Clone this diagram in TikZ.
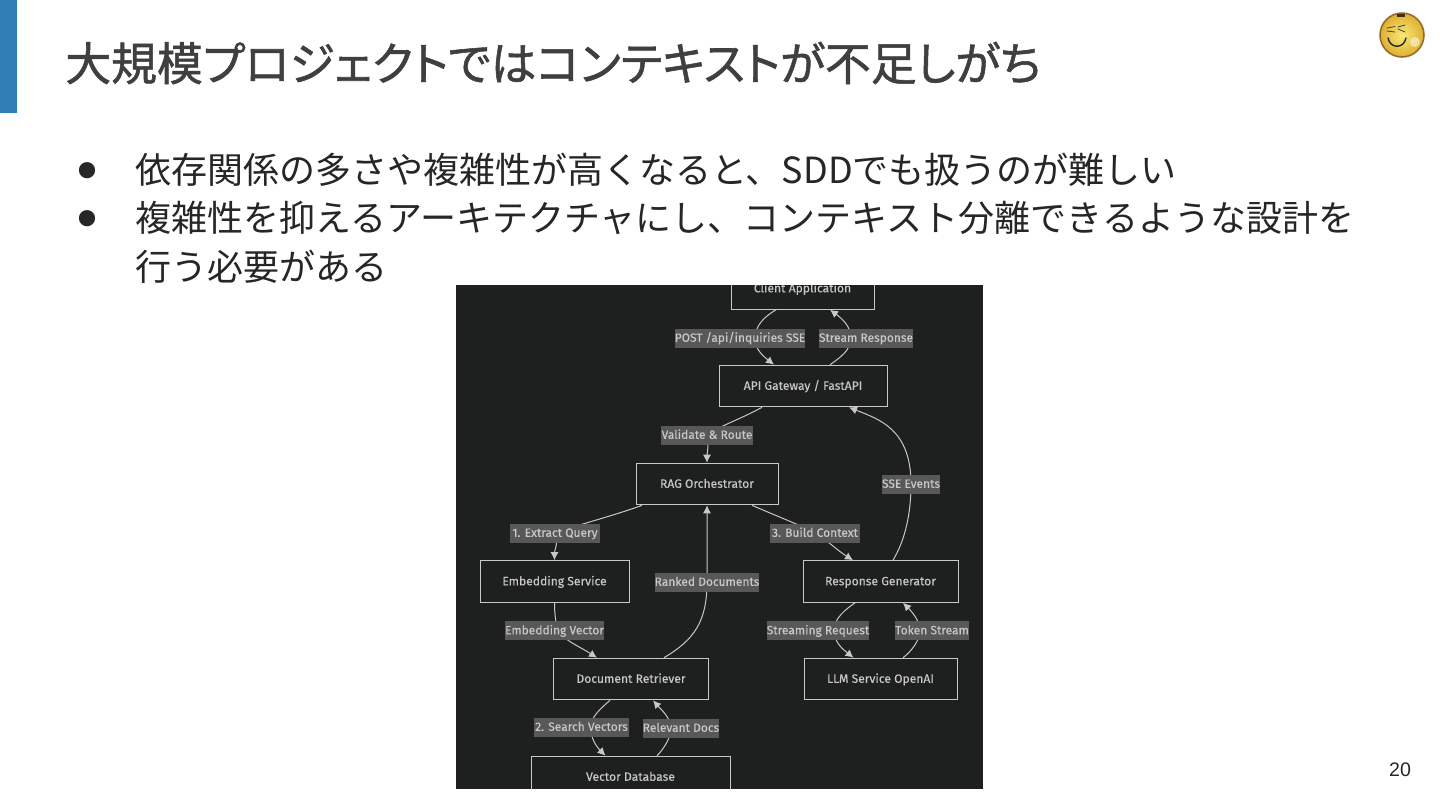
\documentclass[tikz,border=0pt]{standalone}
\usepackage{fontspec}
\setmainfont[FakeBold=0.25]{Fira Sans}
\newfontfamily\cjk{Noto Sans CJK JP}
\newfontfamily\cjkt[FakeBold=1.2,RawFeature={+palt}]{Noto Sans CJK JP}
\newfontfamily\arialish{Liberation Sans}
\usetikzlibrary{calc,arrows.meta}
\definecolor{panel}{HTML}{1E1F1F}
\definecolor{ink}{HTML}{C8C8C8}
\definecolor{labfill}{HTML}{585858}
\definecolor{titlecol}{HTML}{3F3F3F}
\definecolor{barblue}{HTML}{2E7DB5}
\definecolor{faceout}{HTML}{DDB030}
\definecolor{facein}{HTML}{F8E878}
\definecolor{faceedge}{HTML}{8A5A20}
\pgfdeclarelayer{edgelayer}
\pgfsetlayers{edgelayer,main}
\tikzset{
  x=0.5pt,y=-0.5pt,
  box/.style={draw=ink,line width=0.5pt,text=ink,font=\fontsize{6.05}{7}\selectfont,text height=5.2pt,text depth=1.4pt,minimum height=20.8pt,inner sep=0pt,anchor=center},
  lab/.style={fill=labfill,text=ink,font=\fontsize{6}{7}\selectfont,text height=5.2pt,text depth=1.4pt,minimum height=9.5pt,inner sep=0pt,anchor=center},
  edge/.style={draw=ink,line width=0.5pt,-{Latex[length=4pt,width=4pt]}},
  titletext/.style={anchor=west,inner sep=0pt,text=titlecol,font=\cjkt\fontsize{22.9}{28}\selectfont},
  bodytext/.style={anchor=west,inner sep=0pt,text=black!85,font=\cjk\fontsize{18}{22}\selectfont},
  dotnode/.style={anchor=center,inner sep=0pt,text=black!85,font=\cjk\fontsize{9}{11}\selectfont}
}
\begin{document}
\begin{tikzpicture}
\useasboundingbox (0,0) rectangle (1440,810);
\begin{pgfonlayer}{edgelayer}
\fill[white] (0,0) rectangle (1440,810);
\fill[barblue] (0,0) rectangle (17,113);
\fill[panel] (456,285) rectangle (983,789);
\end{pgfonlayer}

\node[titletext] (title) at (65,63) {大規模プロジェクトではコンテキストが不足しがち};
\node[dotnode] (b1) at (87,171) {●};
\node[bodytext] (l1) at (135,170) {依存関係の多さや複雑性が高くなると、SDDでも扱うのが難しい};
\node[dotnode] (b2) at (87,219) {●};
\node[bodytext] (l2) at (135,218) {複雑性を抑えるアーキテクチャにし、コンテキスト分離できるような設計を};
\node[bodytext] (l3) at (135,267) {行う必要がある};
\node[anchor=center,inner sep=0pt,text=black!85,font=\arialish\fontsize{9.8}{11}\selectfont] (page) at (1400,770) {20};

% smiley
\shade[inner color=facein,outer color=faceout] (1402,35) circle (22);
\draw[faceedge,line width=0.8pt,opacity=0.85] (1402,35) circle (22);
\fill[white,opacity=0.5] (1415,42) circle (5);
\fill[black!65!brown] (1397,13.5) rectangle (1405,17);
\draw[black!75,line width=0.4pt,line cap=round] (1387,28) -- (1395,26.5);
\draw[black!75,line width=0.4pt,line cap=round] (1387,31) -- (1395,32);
\draw[black!75,line width=0.4pt,line cap=round] (1398,27) -- (1405,25);
\draw[black!75,line width=0.4pt,line cap=round] (1398,29) -- (1405,32);
\draw[black!85,line width=0.7pt,line cap=round] (1388,38) .. controls (1390,49) and (1404,49) .. (1406,38);

% nodes, clipped by the panel
\begin{scope}
\clip (456,285) rectangle (983,789);
\node[box,minimum width=71.5pt] (client) at (802.5,288.5) {Client Application};
\node[box,minimum width=99.5pt] (vector) at (630.5,777) {Vector Database};
\end{scope}
\node[box,minimum width=84pt] (api) at (803,386) {API Gateway / FastAPI};
\node[box,minimum width=71pt] (rag) at (707,484) {RAG Orchestrator};
\node[box,minimum width=74.5pt] (embed) at (554.5,581.5) {Embedding Service};
\node[box,minimum width=77.5pt] (resp) at (880.5,581.5) {Response Generator};
\node[box,minimum width=77.5pt] (docr) at (631,679) {Document Retriever};
\node[box,minimum width=76.5pt] (llm) at (880.5,679) {LLM Service OpenAI};

\node[lab,minimum width=65pt] (lpost) at (740,338) {POST /api/inquiries SSE};
\node[lab,minimum width=46pt] (lstream) at (866,338) {Stream Response};
\node[lab,minimum width=46pt] (lval) at (707,435) {Validate \& Route};
\node[lab,minimum width=29pt] (lsse) at (911,484) {SSE Events};
\node[lab,minimum width=45pt] (lextract) at (555,533) {1. Extract Query};
\node[lab,minimum width=45pt] (lbuild) at (815,533) {3. Build Context};
\node[lab,minimum width=51.5pt] (lrank) at (707,582) {Ranked Documents};
\node[lab,minimum width=49.5pt] (lembed) at (554.5,630.5) {Embedding Vector};
\node[lab,minimum width=51pt] (lreq) at (818,630.5) {Streaming Request};
\node[lab,minimum width=37pt] (ltok) at (932,630.5) {Token Stream};
\node[lab,minimum width=47.5pt] (lsearch) at (581.5,727) {2. Search Vectors};
\node[lab,minimum width=38pt] (lrel) at (681,728) {Relevant Docs};

\begin{pgfonlayer}{edgelayer}
\draw[edge] ($(client.south)+(-26.5,0)$) .. controls +(-12,7) and +(0,-12) .. ($(lpost.center)+(15,0)$) .. controls +(0,12) and +(-10,-8) .. ($(api.north)+(-29,0)$);
\draw[edge] ($(api.north)+(27,0)$) .. controls +(10,-7) and +(0,12) .. ($(lstream.center)+(-15,0)$) .. controls +(0,-12) and +(11,8) .. ($(client.south)+(27.5,0)$);
\draw[edge] ($(api.south)+(-41,0)$) .. controls +(-24,13) and +(8,-7) .. (lval.center) .. controls +(2,10) and +(0,-8) .. (rag.north);
\draw[edge] ($(resp.north)+(12.5,0)$) .. controls +(12,-20) and +(0,30) .. (lsse.center) .. controls +(0,-55) and +(30,12) .. ($(api.south)+(46,0)$);
\draw[edge] ($(rag.south)+(-65,0)$) .. controls +(-30,11) and +(15,-6) .. (lextract.center) .. controls +(4,8) and +(0,-10) .. (embed.north);
\draw[edge] ($(rag.south)+(45,0)$) .. controls +(30,13) and +(-10,-6) .. (lbuild.center) .. controls +(12,7) and +(-16,-10) .. ($(resp.north)+(-27.5,0)$);
\draw[edge] ($(docr.north)+(33,0)$) .. controls +(30,-18) and +(0,40) .. (lrank.center) -- (rag.south);
\draw[edge] (embed.south) .. controls +(0,10) and +(-2,-10) .. ($(lembed.center)+(3,0)$) .. controls +(4,8) and +(-14,-9) .. ($(docr.north)+(-34,0)$);
\draw[edge] ($(resp.south)+(-25.5,0)$) .. controls +(-10,7) and +(0,-12) .. ($(lreq.center)+(16,0)$) .. controls +(0,12) and +(-10,-8) .. ($(llm.north)+(-27,0)$);
\draw[edge] ($(llm.north)+(22.5,0)$) .. controls +(8,-6) and +(0,10) .. ($(ltok.center)+(-12,0)$) .. controls +(0,-10) and +(8,8) .. ($(resp.south)+(22.5,0)$);
\draw[edge] ($(docr.south)+(-21,0)$) .. controls +(-8,7) and +(0,-10) .. ($(lsearch.center)+(9,0)$) .. controls +(0,12) and +(-8,-8) .. ($(vector.north)+(-25,0)$);
\draw[edge] ($(vector.north)+(26.5,0)$) .. controls +(6,-6) and +(0,10) .. ($(lrel.center)+(-10,0)$) .. controls +(0,-10) and +(7,8) .. ($(docr.south)+(22,0)$);
\end{pgfonlayer}
\end{tikzpicture}
\end{document}
